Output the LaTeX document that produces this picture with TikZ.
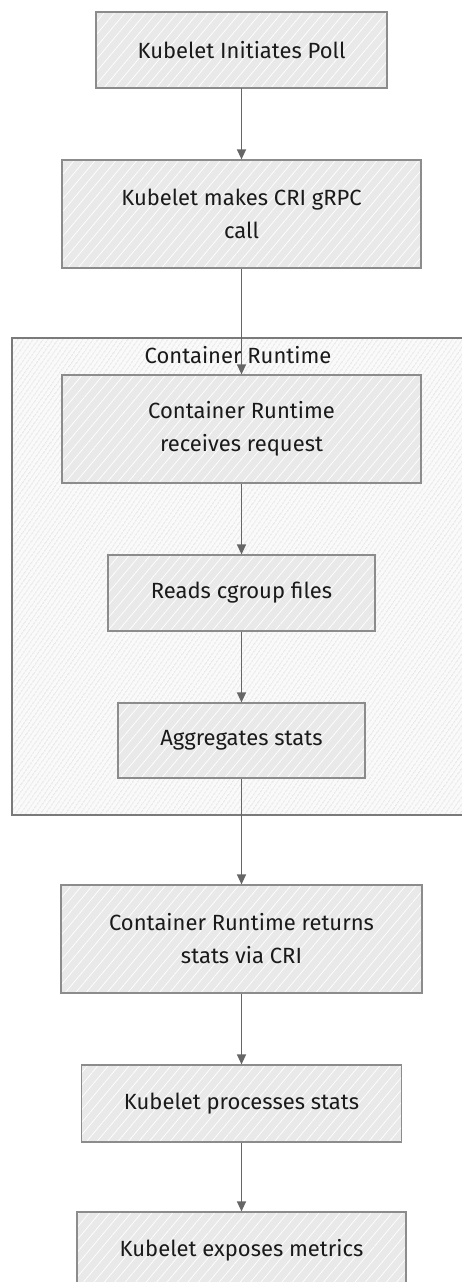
\documentclass[tikz,border=0pt]{standalone}
\usepackage{fontspec}
\setmainfont{Fira Sans}
\usetikzlibrary{patterns.meta,arrows.meta}
\definecolor{boxfill}{HTML}{E9E9E9}
\definecolor{boxline}{HTML}{8C8C8C}
\definecolor{contline}{HTML}{7A7A7A}
\definecolor{contfill}{HTML}{FAFAFA}
\definecolor{hatch}{HTML}{C6C6C6}
\definecolor{textc}{HTML}{1A1A1A}
\definecolor{arrc}{HTML}{666666}
\tikzset{
  box/.style={draw=boxline, line width=1.2pt, preaction={fill=boxfill},
    pattern={Lines[angle=50,distance=8pt,line width=0.7pt]}, pattern color=white,
    font=\fontsize{22}{33}\selectfont, align=center, text=textc, inner sep=0pt},
  cont/.style={draw=contline, line width=1.1pt, preaction={fill=contfill},
    pattern={Lines[angle=55,distance=4pt,line width=0.5pt]}, pattern color=hatch},
  arr/.style={draw=arrc, line width=1.3pt, -{Triangle[length=10pt,width=9pt]}},
  lbl/.style={font=\fontsize{22}{33}\selectfont, text=textc, inner sep=0pt}
}
\begin{document}
\begin{tikzpicture}[x=1pt,y=-1pt]
\useasboundingbox (0,0) rectangle (462,1282);
\fill[white] (0,0) rectangle (462,1282);
% container
\path[cont] (12,338) rectangle (480,815);
\node[lbl] (clabel) at (238,355) {Container Runtime};
% nodes
\node[box, minimum width=291pt, minimum height=76pt] (n1) at (241.5,50) {Kubelet Initiates Poll};
\node[box, minimum width=359pt, minimum height=108pt] (n2) at (241.5,214) {Kubelet makes CRI gRPC\\call};
\node[box, minimum width=359pt, minimum height=108pt] (n3) at (241.5,429) {Container Runtime\\receives request};
\node[box, minimum width=267pt, minimum height=76pt] (n4) at (241.5,593) {Reads cgroup files};
\node[box, minimum width=247pt, minimum height=75pt] (n5) at (241.5,740.5) {Aggregates stats};
\node[box, minimum width=361pt, minimum height=108pt] (n6) at (241.5,939) {Container Runtime returns\\stats via CRI};
\node[box, minimum width=320pt, minimum height=77pt] (n7) at (241.5,1103.5) {Kubelet processes stats};
\node[box, minimum width=329pt, minimum height=76pt] (n8) at (241.5,1250) {Kubelet exposes metrics};
% arrows
\draw[arr] (n1.south) -- (n2.north);
\draw[arr] (n2.south) -- (n3.north);
\draw[arr] (n3.south) -- (n4.north);
\draw[arr] (n4.south) -- (n5.north);
\draw[arr] (n5.south) -- (n6.north);
\draw[arr] (n6.south) -- (n7.north);
\draw[arr] (n7.south) -- (n8.north);
\end{tikzpicture}
\end{document}
